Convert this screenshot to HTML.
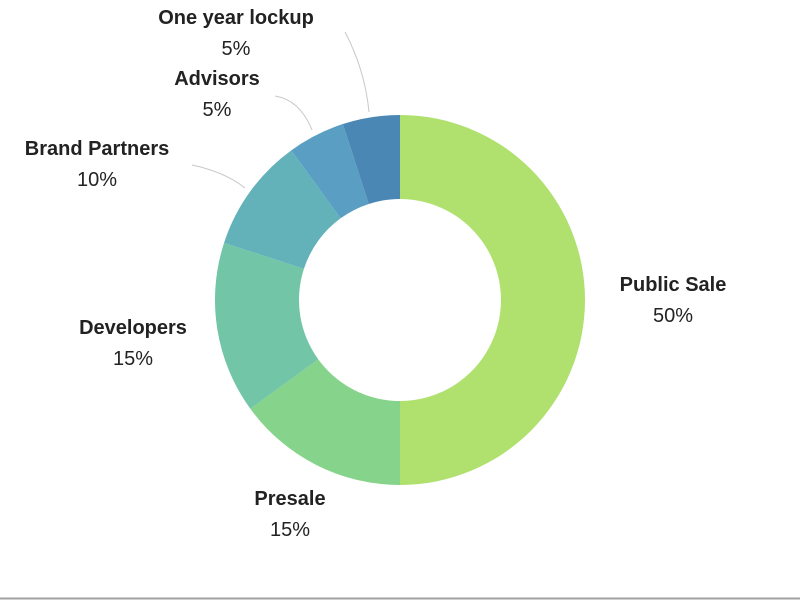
<!DOCTYPE html>
<html><head><meta charset="utf-8"><style>
html,body{margin:0;padding:0;background:#fff;}
svg{display:block;font-family:"Liberation Sans",sans-serif;}
</style></head><body>
<svg id="chart" width="800" height="600">
<line x1="0" y1="598.5" x2="800" y2="598.5" stroke="#a0a0a0" stroke-width="2"/>
<path d="M345,32 Q365,70 369,112" fill="none" stroke="#c8c8c8" stroke-width="1"/>
<path d="M275,96 Q300,100 312,130" fill="none" stroke="#c8c8c8" stroke-width="1"/>
<path d="M192,165 Q225,172 245,188" fill="none" stroke="#c8c8c8" stroke-width="1"/>
<g id="slices"></g>
<g id="labels"></g>
</svg>
<script>
const categories = ["Public Sale","Presale","Developers","Brand Partners","Advisors","One year lockup"];
const values = [50,15,15,10,5,5];
const colors = ["#b0e16f","#86d48b","#72c5a7","#63b2b9","#5a9fc3","#4a87b5"];
const labelPos = [[673,284],[290,498],[133,327],[97,148],[217,78],[236,17]];
const cx=400, cy=300, R=185, r=101;
const total = values.reduce((a,b)=>a+b,0);
const ns="http://www.w3.org/2000/svg";
const sg=document.getElementById('slices'), lg=document.getElementById('labels');
function pt(a,rad){return [cx+rad*Math.sin(a), cy-rad*Math.cos(a)];}
let acc=0;
values.forEach((v,i)=>{
  const a0=acc/total*2*Math.PI, a1=(acc+v)/total*2*Math.PI; acc+=v;
  const large=(a1-a0)>Math.PI?1:0;
  const [x0,y0]=pt(a0,R),[x1,y1]=pt(a1,R),[x2,y2]=pt(a1,r),[x3,y3]=pt(a0,r);
  const p=document.createElementNS(ns,'path');
  p.setAttribute('d',`M${x0},${y0} A${R},${R} 0 ${large} 1 ${x1},${y1} L${x2},${y2} A${r},${r} 0 ${large} 0 ${x3},${y3} Z`);
  p.setAttribute('fill',colors[i]);
  
  
  sg.appendChild(p);
  const [lx,ly]=labelPos[i];
  const t=document.createElementNS(ns,'text');
  t.setAttribute('x',lx); t.setAttribute('y',ly+7);
  t.setAttribute('text-anchor','middle'); t.setAttribute('font-size','20'); t.setAttribute('font-weight','bold'); t.setAttribute('fill','#222');
  t.textContent=categories[i];
  
  
  lg.appendChild(t);
  const t2=document.createElementNS(ns,'text');
  t2.setAttribute('x',lx); t2.setAttribute('y',ly+38);
  t2.setAttribute('text-anchor','middle'); t2.setAttribute('font-size','20'); t2.setAttribute('fill','#222');
  t2.textContent=v+'%';
  
  
  lg.appendChild(t2);
});
</script>
</body></html>
